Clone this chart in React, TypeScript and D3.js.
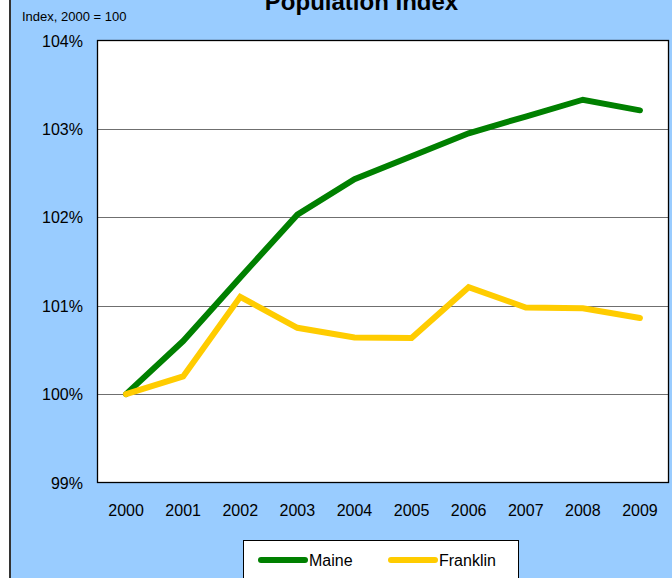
import React from "react";
import * as d3 from "d3";

const years = ["2000", "2001", "2002", "2003", "2004", "2005", "2006", "2007", "2008", "2009"];
const maine = [100, 100.6, 101.32, 102.03, 102.43, 102.69, 102.95, 103.14, 103.33, 103.21];
const franklin = [100, 100.2, 101.1, 100.75, 100.64, 100.635, 101.21, 100.98, 100.97, 100.86];
const yTicks = [99, 100, 101, 102, 103, 104];
const seriesNames = ["Maine", "Franklin"];
const seriesColors = ["#008000", "#FFCC00"];

const W = 672;
const H = 578;
const plot = { left: 97.5, right: 668.5, top: 40.5, bottom: 482.5 };
const font = "'Liberation Sans', Arial, sans-serif";

export default function App() {
  const x = d3
    .scaleBand<string>()
    .domain(years)
    .range([plot.left, plot.right]);
  const y = d3.scaleLinear().domain([99, 104]).range([plot.bottom, plot.top]);
  const line = d3
    .line<number>()
    .x((_, i) => (x(years[i]) as number) + x.bandwidth() / 2)
    .y((d) => y(d));
  const series = [maine, franklin];

  return (
    <svg
      width={W}
      height={H}
      style={{ position: "absolute", left: 0, top: 0, display: "block" }}
      fontFamily={font}
    >
      <rect x={0} y={0} width={W} height={H} fill="#ffffff" />
      <rect x={10} y={0} width={W - 10} height={H} fill="#99CCFF" />
      <line x1={10} x2={10} y1={0} y2={H} stroke="#333333" strokeWidth={2} />
      <text x={361.5} y={10} textAnchor="middle" fontSize={24} fontWeight="bold" fill="#000">
        Population Index
      </text>
      <text x={22} y={21} fontSize={13} fill="#000">
        Index, 2000 = 100
      </text>
      <rect
        x={plot.left}
        y={plot.top}
        width={plot.right - plot.left}
        height={plot.bottom - plot.top}
        fill="#ffffff"
      />
      {yTicks.slice(1, -1).map((t) => (
        <line
          key={t}
          x1={plot.left}
          x2={plot.right}
          y1={Math.round(y(t)) + 0.5}
          y2={Math.round(y(t)) + 0.5}
          stroke="#6f6f6f"
          strokeWidth={1.2}
        />
      ))}
      <rect
        x={plot.left}
        y={plot.top}
        width={plot.right - plot.left}
        height={plot.bottom - plot.top}
        fill="none"
        stroke="#000"
        strokeWidth={1.3}
      />
      {yTicks.map((t) => (
        <text key={t} x={83} y={y(t) + 6} textAnchor="end" fontSize={16} fill="#000">
          {t}%
        </text>
      ))}
      {years.map((yr) => (
        <text
          key={yr}
          x={(x(yr) as number) + x.bandwidth() / 2}
          y={516}
          textAnchor="middle"
          fontSize={16}
          fill="#000"
        >
          {yr}
        </text>
      ))}
      {series.map((s, i) => (
        <path
          key={seriesNames[i]}
          d={line(s) as string}
          fill="none"
          stroke={seriesColors[i]}
          strokeWidth={6}
          strokeLinejoin="miter"
          strokeLinecap="round"
        />
      ))}
      <rect x={243.5} y={540.5} width={275} height={50} fill="#ffffff" stroke="#000" strokeWidth={1} />
      {seriesNames.map((n, i) => {
        const lx = i === 0 ? 261 : 391;
        return (
          <g key={n}>
            <line
              x1={lx}
              x2={lx + 44}
              y1={560}
              y2={560}
              stroke={seriesColors[i]}
              strokeWidth={6}
              strokeLinecap="round"
            />
            <text x={lx + 48} y={566} fontSize={16} fill="#000">
              {n}
            </text>
          </g>
        );
      })}
    </svg>
  );
}
